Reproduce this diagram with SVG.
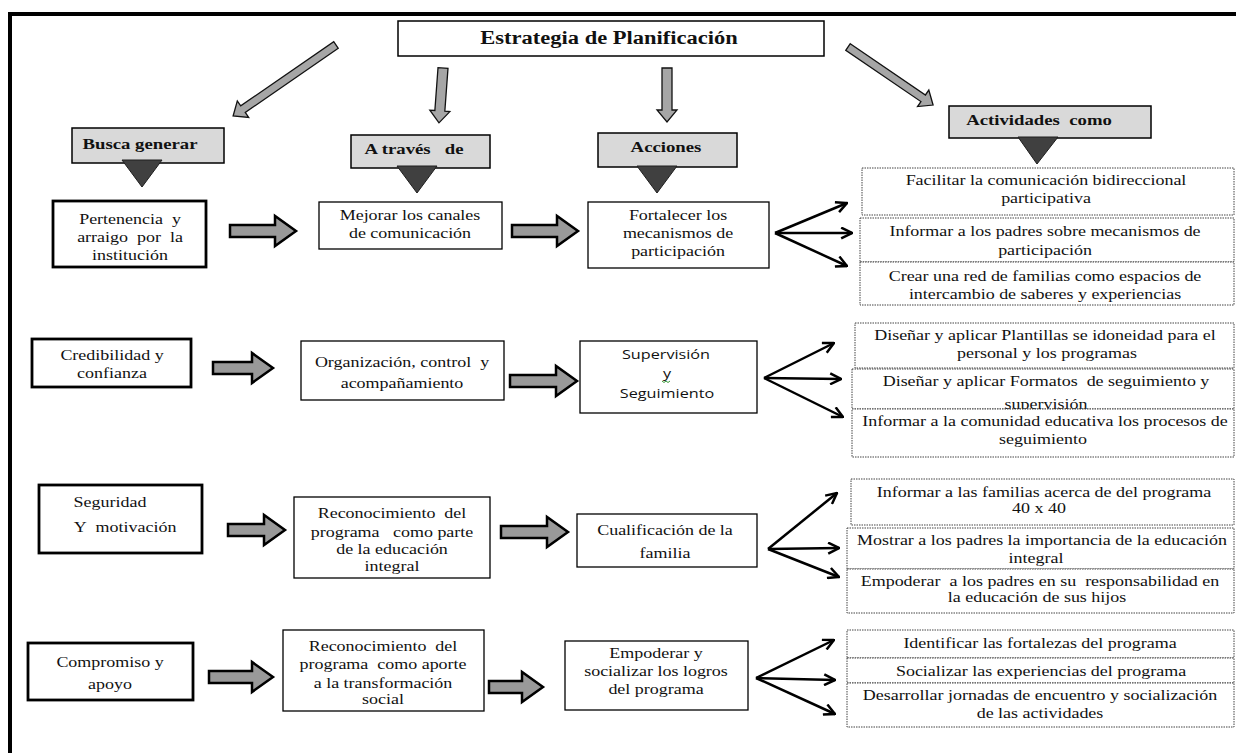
<svg xmlns="http://www.w3.org/2000/svg" width="1236" height="753" viewBox="0 0 1236 753">
<defs>
<style>
.t{font-family:"Liberation Serif","Times New Roman",serif;font-size:15.5px;fill:#111;text-anchor:middle;white-space:pre}
.h{font-family:"Liberation Serif","Times New Roman",serif;font-weight:bold;font-size:15px;fill:#111;text-anchor:middle;white-space:pre}
.s{font-family:"Open Sans","Noto Sans",sans-serif;font-size:13.5px;fill:#111;text-anchor:middle}
.box{fill:#fff;stroke:#000;stroke-width:1.3}
.thick{fill:#fff;stroke:#000;stroke-width:2.8}
.dot{fill:#fff;stroke:#444;stroke-width:1;stroke-dasharray:1.5 1}
.hdr{fill:#d9d9d9;stroke:#000;stroke-width:1.5}
.tri{fill:#404040;stroke:#1e1e1e;stroke-width:1}
.fat{fill:#999;stroke:#000;stroke-width:2.5;stroke-linejoin:miter}
.slim{fill:#a6a6a6;stroke:#111;stroke-width:1.3}
.fan{stroke:#000;stroke-width:2.5;fill:none;marker-end:url(#v)}
</style>
<marker id="v" viewBox="0 0 12 12" refX="11" refY="6" markerWidth="13" markerHeight="13" markerUnits="userSpaceOnUse" orient="auto">
<path d="M1,1 L11,6 L1,11" fill="none" stroke="#000" stroke-width="2.3"/>
</marker>
<clipPath id="clipB"><rect x="852" y="369" width="382" height="40"/></clipPath>
</defs>
<rect width="1236" height="753" fill="#fff"/>
<g id="frame">
<line x1="8" y1="14" x2="1236" y2="14" stroke="#000" stroke-width="4"/>
<line x1="10" y1="12" x2="10" y2="753" stroke="#000" stroke-width="4"/>
</g>

<g id="connectors">
<polygon class="slim" transform="translate(336,45) rotate(145.4)" points="0,-4 113,-4 113,-10 125,0 113,10 113,4 0,4"/>
<polygon class="slim" transform="translate(443,68) rotate(94.2)" points="0,-5 43,-5 43,-10 55,0 43,10 43,5 0,5"/>
<polygon class="slim" transform="translate(667,68) rotate(90)" points="0,-5 42,-5 42,-10 54,0 42,10 42,5 0,5"/>
<polygon class="slim" transform="translate(848,47) rotate(34.3)" points="0,-4 91,-4 91,-10 103,0 91,10 91,4 0,4"/>

<polygon class="fat" points="230,225 275,225 275,216 296,231 275,246 275,237 230,237"/>
<polygon class="fat" points="512,225 557,225 557,216 578,231 557,246 557,237 512,237"/>
<polygon class="fat" points="213,362 252,362 252,353 273,368 252,383 252,374 213,374"/>
<polygon class="fat" points="510,375 556,375 556,366 577,381 556,396 556,387 510,387"/>
<polygon class="fat" points="228,524 264,524 264,515 285,530 264,545 264,536 228,536"/>
<polygon class="fat" points="501,526 547,526 547,517 568,532 547,547 547,538 501,538"/>
<polygon class="fat" points="209,671 252,671 252,662 273,677 252,692 252,683 209,683"/>
<polygon class="fat" points="489,681 522,681 522,672 543,687 522,702 522,693 489,693"/>

<line class="fan" x1="775" y1="233" x2="847" y2="203"/>
<line class="fan" x1="775" y1="233" x2="852" y2="233"/>
<line class="fan" x1="775" y1="233" x2="847" y2="266"/>
<line class="fan" x1="764" y1="378" x2="834" y2="343"/>
<line class="fan" x1="764" y1="378" x2="841" y2="379"/>
<line class="fan" x1="764" y1="378" x2="843" y2="417"/>
<line class="fan" x1="768" y1="549" x2="837" y2="493"/>
<line class="fan" x1="768" y1="549" x2="839" y2="548"/>
<line class="fan" x1="768" y1="549" x2="839" y2="577"/>
<line class="fan" x1="756" y1="678" x2="834" y2="640"/>
<line class="fan" x1="756" y1="678" x2="835" y2="680"/>
<line class="fan" x1="756" y1="678" x2="835" y2="714"/>
</g>

<g id="title">
<rect x="398" y="21" width="426" height="35" fill="#fff" stroke="#000" stroke-width="1.5"/>
<text class="h" style="font-size:18px" transform="translate(609,44) scale(1.25,1)">Estrategia de Planificación</text>
</g>

<g id="h-busca">
<rect class="hdr" x="72" y="128" width="152" height="35"/>
<text class="h" transform="translate(140,149) scale(1.25,1)">Busca generar</text>
<polygon class="tri" points="122,160 162,160 142,187"/>
</g>
<g id="h-traves">
<rect class="hdr" x="351" y="135" width="139" height="33"/>
<text class="h" transform="translate(414,154) scale(1.25,1)">A través&#160;&#160; de</text>
<polygon class="tri" points="397,166 437,166 417,193"/>
</g>
<g id="h-acciones">
<rect class="hdr" x="598" y="133" width="139" height="34"/>
<text class="h" transform="translate(666,152) scale(1.25,1)">Acciones</text>
<polygon class="tri" points="637,166 677,166 657,193"/>
</g>
<g id="h-actividades">
<rect class="hdr" x="949" y="106" width="202" height="32"/>
<text class="h" transform="translate(1039,125) scale(1.25,1)">Actividades&#160; como</text>
<polygon class="tri" points="1018,137 1058,137 1037,164"/>
</g>

<g id="n-pertenencia">
<rect class="thick" x="53" y="201" width="153" height="66"/>
<text class="t" transform="translate(130,224) scale(1.16,1)">Pertenencia&#160; y</text>
<text class="t" transform="translate(130,242) scale(1.16,1)">arraigo&#160; por&#160; la</text>
<text class="t" transform="translate(130,260) scale(1.16,1)">institución</text>
</g>
<g id="n-mejorar">
<rect class="box" x="319" y="202" width="183" height="47"/>
<text class="t" transform="translate(410,220) scale(1.16,1)">Mejorar los canales</text>
<text class="t" transform="translate(410,238) scale(1.16,1)">de comunicación</text>
</g>
<g id="n-fortalecer">
<rect class="box" x="588" y="202" width="181" height="66"/>
<text class="t" transform="translate(678,220) scale(1.16,1)">Fortalecer los</text>
<text class="t" transform="translate(678,238) scale(1.16,1)">mecanismos de</text>
<text class="t" transform="translate(678,256) scale(1.16,1)">participación</text>
</g>
<g id="a-facilitar">
<rect class="dot" x="862" y="168" width="372" height="47"/>
<text class="t" transform="translate(1046,185) scale(1.16,1)">Facilitar la comunicación bidireccional</text>
<text class="t" transform="translate(1046,203) scale(1.16,1)">participativa</text>
</g>
<g id="a-informar-padres">
<rect class="dot" x="860" y="218" width="374" height="44"/>
<text class="t" transform="translate(1045,236) scale(1.16,1)">Informar a los padres sobre mecanismos de</text>
<text class="t" transform="translate(1045,255) scale(1.16,1)">participación</text>
</g>
<g id="a-crear-red">
<rect class="dot" x="860" y="262" width="374" height="43"/>
<text class="t" transform="translate(1045,281) scale(1.16,1)">Crear una red de familias como espacios de</text>
<text class="t" transform="translate(1045,299) scale(1.16,1)">intercambio de saberes y experiencias</text>
</g>

<g id="n-credibilidad">
<rect class="thick" x="32" y="339" width="159" height="48"/>
<text class="t" transform="translate(112,360) scale(1.16,1)">Credibilidad y</text>
<text class="t" transform="translate(112,378) scale(1.16,1)">confianza</text>
</g>
<g id="n-organizacion">
<rect class="box" x="301" y="341" width="203" height="59"/>
<text class="t" transform="translate(402,367) scale(1.16,1)">Organización, control&#160; y</text>
<text class="t" transform="translate(402,388) scale(1.16,1)">acompañamiento</text>
</g>
<g id="n-supervision">
<rect class="box" x="580" y="341" width="177" height="72"/>
<text class="s" transform="translate(666,359) scale(1.2,1)">Supervisión</text>
<text class="s" transform="translate(667,378) scale(1.2,1)">y</text>
<path d="M662,381 l2,1.5 l2,-1.5 l2,1.5 l2,-1.5" fill="none" stroke="#3a9a3a" stroke-width="1"/>
<text class="s" transform="translate(667,398) scale(1.2,1)">Seguimiento</text>
</g>
<g id="a-plantillas">
<rect class="dot" x="855" y="323" width="379" height="45"/>
<text class="t" transform="translate(1045,340) scale(1.16,1)">Diseñar y aplicar Plantillas se idoneidad para el</text>
<text class="t" transform="translate(1047,358) scale(1.16,1)">personal y los programas</text>
</g>
<g id="a-formatos">
<rect class="dot" x="852" y="369" width="382" height="40"/>
<text class="t" transform="translate(1046,386) scale(1.16,1)">Diseñar y aplicar Formatos&#160; de seguimiento y</text>
<g clip-path="url(#clipB)">
<text class="t" transform="translate(1046,409) scale(1.16,1)">supervisión</text>
</g>
</g>
<g id="a-comunidad">
<rect class="dot" x="852" y="409" width="382" height="48"/>
<text class="t" transform="translate(1045,426) scale(1.16,1)">Informar a la comunidad educativa los procesos de</text>
<text class="t" transform="translate(1043,444) scale(1.16,1)">seguimiento</text>
</g>

<g id="n-seguridad">
<rect class="thick" x="39" y="485" width="163" height="68"/>
<text class="t" transform="translate(110,507) scale(1.16,1)">Seguridad</text>
<text class="t" transform="translate(125,532) scale(1.16,1)">Y&#160; motivación</text>
</g>
<g id="n-reconocimiento-parte">
<rect class="box" x="294" y="497" width="196" height="81"/>
<text class="t" transform="translate(392,518) scale(1.16,1)">Reconocimiento&#160; del</text>
<text class="t" transform="translate(392,537) scale(1.16,1)">programa&#160;&#160; como parte</text>
<text class="t" transform="translate(392,554) scale(1.16,1)">de la educación</text>
<text class="t" transform="translate(392,571) scale(1.16,1)">integral</text>
</g>
<g id="n-cualificacion">
<rect class="box" x="577" y="514" width="180" height="53"/>
<text class="t" transform="translate(665,535) scale(1.16,1)">Cualificación de la</text>
<text class="t" transform="translate(665,558) scale(1.16,1)">familia</text>
</g>
<g id="a-informar-familias">
<rect class="dot" x="851" y="479" width="383" height="46"/>
<text class="t" transform="translate(1044,497) scale(1.16,1)">Informar a las familias acerca de del programa</text>
<text class="t" transform="translate(1039,513) scale(1.16,1)">40 x 40</text>
</g>
<g id="a-mostrar">
<rect class="dot" x="847" y="528" width="387" height="41"/>
<text class="t" transform="translate(1042,545) scale(1.16,1)">Mostrar a los padres la importancia de la educación</text>
<text class="t" transform="translate(1036,563) scale(1.16,1)">integral</text>
</g>
<g id="a-empoderar-padres">
<rect class="dot" x="847" y="569" width="387" height="44"/>
<text class="t" transform="translate(1040,586) scale(1.16,1)">Empoderar&#160; a los padres en su&#160; responsabilidad en</text>
<text class="t" transform="translate(1037,602) scale(1.16,1)">la educación de sus hijos</text>
</g>

<g id="n-compromiso">
<rect class="thick" x="28" y="643" width="165" height="57"/>
<text class="t" transform="translate(110,667) scale(1.16,1)">Compromiso y</text>
<text class="t" transform="translate(110,689) scale(1.16,1)">apoyo</text>
</g>
<g id="n-reconocimiento-aporte">
<rect class="box" x="283" y="630" width="201" height="81"/>
<text class="t" transform="translate(383,651) scale(1.16,1)">Reconocimiento&#160; del</text>
<text class="t" transform="translate(383,669) scale(1.16,1)">programa&#160; como aporte</text>
<text class="t" transform="translate(383,688) scale(1.16,1)">a la transformación</text>
<text class="t" transform="translate(383,704) scale(1.16,1)">social</text>
</g>
<g id="n-empoderar">
<rect class="box" x="565" y="641" width="183" height="69"/>
<text class="t" transform="translate(656,658) scale(1.16,1)">Empoderar y</text>
<text class="t" transform="translate(656,676) scale(1.16,1)">socializar los logros</text>
<text class="t" transform="translate(656,694) scale(1.16,1)">del programa</text>
</g>
<g id="a-identificar">
<rect class="dot" x="847" y="630" width="387" height="28"/>
<text class="t" transform="translate(1040,648) scale(1.16,1)">Identificar las fortalezas del programa</text>
</g>
<g id="a-socializar">
<rect class="dot" x="847" y="658" width="387" height="25"/>
<text class="t" transform="translate(1041,676) scale(1.16,1)">Socializar las experiencias del programa</text>
</g>
<g id="a-desarrollar">
<rect class="dot" x="847" y="683" width="387" height="44"/>
<text class="t" transform="translate(1040,700) scale(1.16,1)">Desarrollar jornadas de encuentro y socialización</text>
<text class="t" transform="translate(1040,718) scale(1.16,1)">de las actividades</text>
</g>
</svg>
